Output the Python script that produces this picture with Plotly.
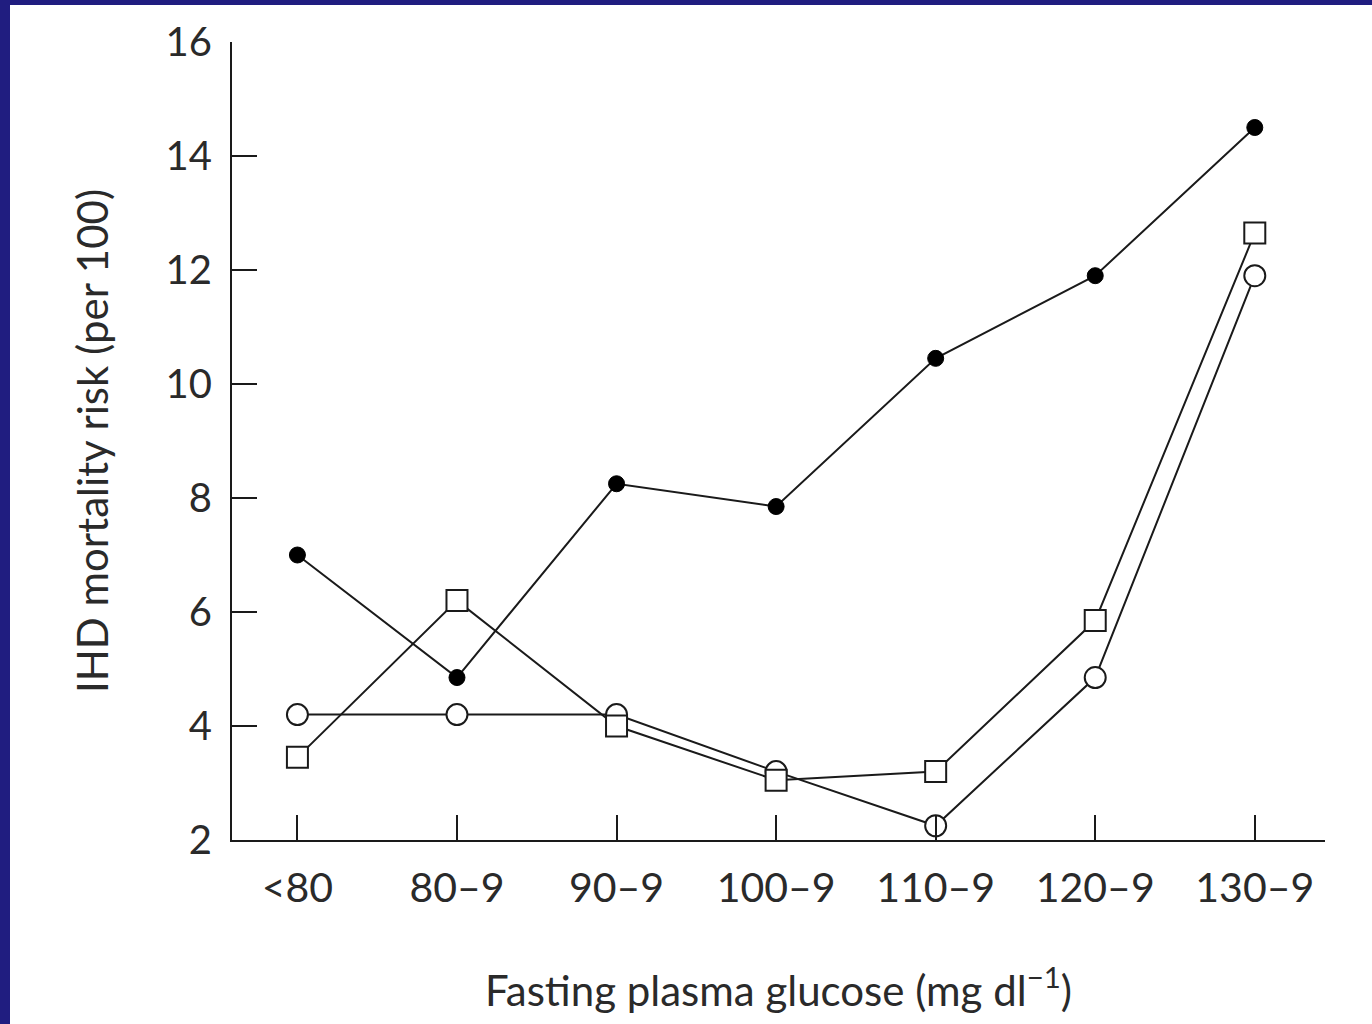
import plotly.graph_objects as go

# glucose bands on the x axis
glucose_bands = ["<80", "80–9", "90–9", "100–9", "110–9", "120–9", "130–9"]

# IHD mortality risk (per 100), three groups
risk_filled_circle = [7.0, 4.85, 8.25, 7.85, 10.45, 11.9, 14.5]
risk_open_circle = [4.2, 4.2, 4.2, 3.2, 2.25, 4.85, 11.9]
risk_open_square = [3.45, 6.2, 4.0, 3.05, 3.2, 5.85, 12.65]

y_ticks = [2, 4, 6, 8, 10, 12, 14, 16]

INK = "#1a1a1a"
BORDER = "#201d80"
FONT = "Lato, 'Open Sans', sans-serif"

fig = go.Figure()

fig.add_trace(go.Scatter(
    x=glucose_bands, y=risk_open_circle, mode="lines+markers", name="open circle",
    line={"color": INK, "width": 2},
    marker={"symbol": "circle", "size": 21, "color": "white", "line": {"color": INK, "width": 2}},
))
fig.add_trace(go.Scatter(
    x=glucose_bands, y=risk_open_square, mode="lines+markers", name="open square",
    line={"color": INK, "width": 2},
    marker={"symbol": "square", "size": 21, "color": "white", "line": {"color": INK, "width": 2}},
))
fig.add_trace(go.Scatter(
    x=glucose_bands, y=risk_filled_circle, mode="lines+markers", name="filled circle",
    line={"color": INK, "width": 2},
    marker={"symbol": "circle", "size": 16, "color": "black", "line": {"color": "black", "width": 1}},
))

# blue slide frame on the left and top edges
W, H = 1372, 1024
L, R, T, B = 232, 47, 42, 184
pw, ph = W - L - R, H - T - B
fig.add_shape(type="rect", xref="paper", yref="paper", layer="above",
              x0=-L / pw, x1=(10 - L) / pw, y0=-B / ph, y1=(H - B) / ph,
              fillcolor=BORDER, line={"width": 0})
fig.add_shape(type="rect", xref="paper", yref="paper", layer="above",
              x0=-L / pw, x1=(W - L) / pw, y0=(H - B - 5) / ph, y1=(H - B) / ph,
              fillcolor=BORDER, line={"width": 0})

fig.update_layout(
    width=W, height=H,
    paper_bgcolor="white", plot_bgcolor="white",
    margin={"l": L, "r": R, "t": T, "b": B, "pad": 0},
    showlegend=False,
    font={"family": FONT, "color": "#2a2a2a"},
)
fig.update_xaxes(
    range=[-0.41, 6.44], showgrid=False, zeroline=False,
    showline=True, linecolor=INK, linewidth=2,
    ticks="inside", ticklen=25, tickwidth=2, tickcolor=INK,
    tickfont={"size": 41}, ticklabelstandoff=11,
    title={"text": "Fasting plasma glucose (mg dl<sup>−1</sup>)", "font": {"size": 42}, "standoff": 66},
)
fig.update_yaxes(
    range=[2, 16], tickvals=y_ticks, showgrid=False, zeroline=False,
    showline=True, linecolor=INK, linewidth=2,
    ticks="inside", ticklen=25, tickwidth=2, tickcolor=INK,
    tickfont={"size": 40}, ticklabelstandoff=10,
    title={"text": "IHD mortality risk (per 100)", "font": {"size": 42}, "standoff": 44},
)

# drop the browser's default page margin so the frame sits at the window edge
fig.write_html("out.html", config={"displayModeBar": False},
               post_script="document.body.style.margin = '0';")
